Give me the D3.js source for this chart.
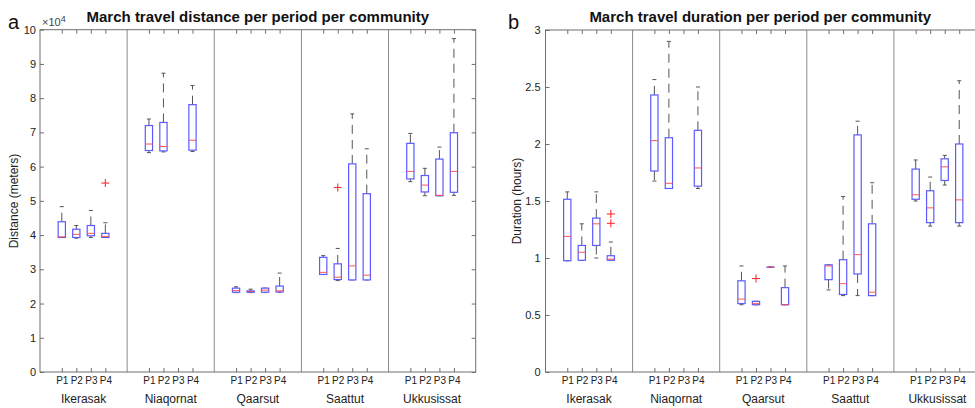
<!DOCTYPE html>
<html><head><meta charset="utf-8">
<script src="https://cdn.jsdelivr.net/npm/d3@7"></script>
<style>
body{margin:0;background:#fff;}
svg{display:block;font-family:"Liberation Sans",Arial,Helvetica,sans-serif;}
</style></head>
<body><svg id="c" width="975" height="408"></svg>
<script>
const communities = ["Ikerasak","Niaqornat","Qaarsut","Saattut","Ukkusissat"];
const periods = ["P1","P2","P3","P4"];

// Distance (x10^4 meters), order: community-major, P1..P4
const distHigh = [4.83,4.28,4.72,4.36, 7.39,8.73,null,8.37, 2.49,2.42,2.45,2.89, 3.40,3.61,7.54,6.52, 6.97,5.95,6.57,9.74];
const distQ3   = [4.39,4.17,4.28,4.05, 7.20,7.29,null,7.81, 2.45,2.37,2.45,2.51, 3.35,3.16,6.08,5.21, 6.68,5.74,6.22,6.99];
const distMed  = [3.95,4.02,4.05,3.96, 6.66,6.59,null,6.77, 2.38,2.35,2.39,2.37, 2.91,2.77,3.10,2.83, 5.86,5.46,5.16,5.86];
const distQ1   = [3.93,3.93,3.98,3.93, 6.47,6.46,null,6.48, 2.33,2.33,2.33,2.34, 2.85,2.70,2.69,2.69, 5.64,5.26,5.15,5.25];
const distLow  = [3.93,3.91,3.93,3.93, 6.41,6.43,null,6.44, 2.32,2.32,2.32,2.33, 2.85,2.67,2.69,2.69, 5.56,5.15,5.15,5.16];
const distOutliers = [[3,5.52],[13,5.39]]; // [box index, value]

// Duration (hours)
const durHigh = [1.58,1.30,1.58,1.14, 2.565,2.90,null,2.50, 0.93,0.62,0.92,0.93, 0.94,1.54,2.20,1.66, 1.86,1.71,1.90,2.555];
const durQ3   = [1.515,1.11,1.35,1.02, 2.43,2.055,null,2.12, 0.80,0.62,0.92,0.74, 0.94,0.985,2.08,1.30, 1.78,1.59,1.87,2.00];
const durMed  = [1.19,1.05,1.30,0.99, 2.03,1.655,null,1.79, 0.64,0.60,0.92,0.59, 0.93,0.775,1.03,0.70, 1.555,1.44,1.80,1.51];
const durQ1   = [0.976,0.98,1.11,0.98, 1.763,1.61,null,1.63, 0.60,0.59,0.92,0.59, 0.81,0.68,0.86,0.67, 1.515,1.31,1.68,1.31];
const durLow  = [0.976,0.98,1.00,0.98, 1.675,1.61,null,1.61, 0.59,0.59,0.92,0.59, 0.72,0.67,0.67,0.67, 1.50,1.28,1.64,1.28];
const durOutliers = [[3,1.386],[3,1.304],[9,0.82]];

const distTicks = [0,1,2,3,4,5,6,7,8,9,10];
const durTicks = [0,0.5,1,1.5,2,2.5,3];

const svg = d3.select("#c");
const TXT = "#222";
const AX = "#6e6e6e";

function panel(opt){
  const g = svg.append("g");
  const x = d3.scaleLinear().domain([0,30]).range([opt.x0,opt.x1]);
  const y = d3.scaleLinear().domain(opt.ydom).range([372,opt.ytop]);
  const pos = [];
  communities.forEach((c,ci)=>periods.forEach((p,pi)=>pos.push(ci*6+1.5+pi)));

  g.selectAll("line.div").data([6,12,18,24]).join("line")
    .attr("x1",d=>x(d)).attr("x2",d=>x(d)).attr("y1",y.range()[0]).attr("y2",y.range()[1])
    .attr("stroke","#8a8a8a").attr("stroke-width",1);

  g.append("rect").attr("x",x(0)).attr("y",y.range()[1]).attr("width",x(30)-x(0)).attr("height",y.range()[0]-y.range()[1])
    .attr("fill","none").attr("stroke",AX).attr("stroke-width",1);

  const ax = (sel)=>{sel.selectAll(".domain").remove(); sel.selectAll(".tick line").attr("stroke",AX);
    sel.selectAll("text").attr("fill",TXT).attr("font-family","Liberation Sans, Arial, sans-serif");};

  g.append("g").attr("transform",`translate(${x(0)},0)`)
    .call(d3.axisLeft(y).tickValues(opt.ticks).tickSize(-4).tickPadding(opt.ypad).tickFormat(d3.format("")))
    .call(ax).selectAll("text").attr("font-size",11);
  g.append("g").attr("transform",`translate(${x(30)},0)`)
    .call(d3.axisRight(y).tickValues(opt.ticks).tickSize(-4).tickFormat(""))
    .call(ax);
  g.append("g").attr("transform",`translate(0,${y.range()[0]})`)
    .call(d3.axisBottom(x).tickValues(pos).tickSize(-4).tickPadding(5).tickFormat((d,i)=>periods[i%4]))
    .call(ax).selectAll("text").attr("font-size",10);
  g.append("g").attr("transform",`translate(0,${y.range()[1]})`)
    .call(d3.axisTop(x).tickValues(pos).tickSize(-4).tickFormat(""))
    .call(ax);

  g.selectAll("text.grp").data(communities).join("text")
    .attr("x",(d,i)=>x(i*6+3)).attr("y",403).attr("text-anchor","middle")
    .attr("font-size",12).attr("fill",TXT).text(d=>d);

  const bw = x(0.5)-x(0);
  const items = pos.map((p,i)=>({p,i,hi:opt.hi[i],q3:opt.q3[i],med:opt.med[i],q1:opt.q1[i],lo:opt.lo[i]})).filter(d=>d.med!=null);
  const bg = g.append("g");
  bg.selectAll("line.wu").data(items).join("line")
    .attr("x1",d=>x(d.p)).attr("x2",d=>x(d.p)).attr("y1",d=>y(d.q3)).attr("y2",d=>y(d.hi))
    .attr("stroke","#555").attr("stroke-width",1).attr("stroke-dasharray","9,6");
  bg.selectAll("line.wl").data(items).join("line")
    .attr("x1",d=>x(d.p)).attr("x2",d=>x(d.p)).attr("y1",d=>y(d.q1)).attr("y2",d=>y(d.lo))
    .attr("stroke","#555").attr("stroke-width",1).attr("stroke-dasharray","9,6");
  bg.selectAll("line.cu").data(items).join("line")
    .attr("x1",d=>x(d.p)-2).attr("x2",d=>x(d.p)+2).attr("y1",d=>y(d.hi)).attr("y2",d=>y(d.hi))
    .attr("stroke","#555").attr("stroke-width",1);
  bg.selectAll("line.cl").data(items).join("line")
    .attr("x1",d=>x(d.p)-2).attr("x2",d=>x(d.p)+2).attr("y1",d=>y(d.lo)).attr("y2",d=>y(d.lo))
    .attr("stroke","#555").attr("stroke-width",1);
  bg.selectAll("rect.box").data(items).join("rect")
    .attr("x",d=>x(d.p)-bw/2).attr("width",bw)
    .attr("y",d=>y(d.q3)).attr("height",d=>Math.max(0.01,y(d.q1)-y(d.q3)))
    .attr("fill","#fff").attr("stroke","#5b5bff").attr("stroke-width",1.2);
  bg.selectAll("line.med").data(items).join("line")
    .attr("x1",d=>x(d.p)-bw/2).attr("x2",d=>x(d.p)+bw/2).attr("y1",d=>y(d.med)).attr("y2",d=>y(d.med))
    .attr("stroke","#ff4a4a").attr("stroke-width",1.1).attr("stroke-opacity",0.85);
  const og = bg.selectAll("g.out").data(opt.out).join("g")
    .attr("transform",d=>`translate(${x(pos[d[0]])},${y(d[1])})`);
  og.append("line").attr("x1",-4).attr("x2",4).attr("stroke","#ff3030").attr("stroke-width",1.1);
  og.append("line").attr("y1",-4).attr("y2",4).attr("stroke","#ff3030").attr("stroke-width",1.1);

  svg.append("text").attr("x",(opt.x0+opt.tx1)/2).attr("y",22).attr("text-anchor","middle")
    .attr("font-size",15).attr("font-weight","bold").attr("fill","#111").text(opt.title);
  svg.append("text").attr("transform",`translate(${opt.ylx},201) rotate(-90)`).attr("text-anchor","middle")
    .attr("font-size",12).attr("fill",TXT).text(opt.ylabel);
  svg.append("text").attr("x",opt.lx).attr("y",29).attr("font-size",20).attr("fill","#111").text(opt.letter);
  return {x,y};
}

panel({x0:40,x1:475.7,tx1:475.7,ytop:29.7,ydom:[0,10],ticks:distTicks,ypad:4,
  hi:distHigh,q3:distQ3,med:distMed,q1:distQ1,lo:distLow,out:distOutliers,
  title:"March travel distance per period per community",ylabel:"Distance (meters)",ylx:18,letter:"a",lx:8});
panel({x0:545.5,x1:981,tx1:975,ytop:30,ydom:[0,3],ticks:durTicks,ypad:5,
  hi:durHigh,q3:durQ3,med:durMed,q1:durQ1,lo:durLow,out:durOutliers,
  title:"March travel duration per period per community",ylabel:"Duration (hours)",ylx:521,letter:"b",lx:508});

const ex = svg.append("text").attr("x",42).attr("y",26).attr("font-size",11).attr("fill","#444");
ex.append("tspan").text("×10");
ex.append("tspan").attr("dy",-4).attr("font-size",9).text("4");
</script></body></html>
